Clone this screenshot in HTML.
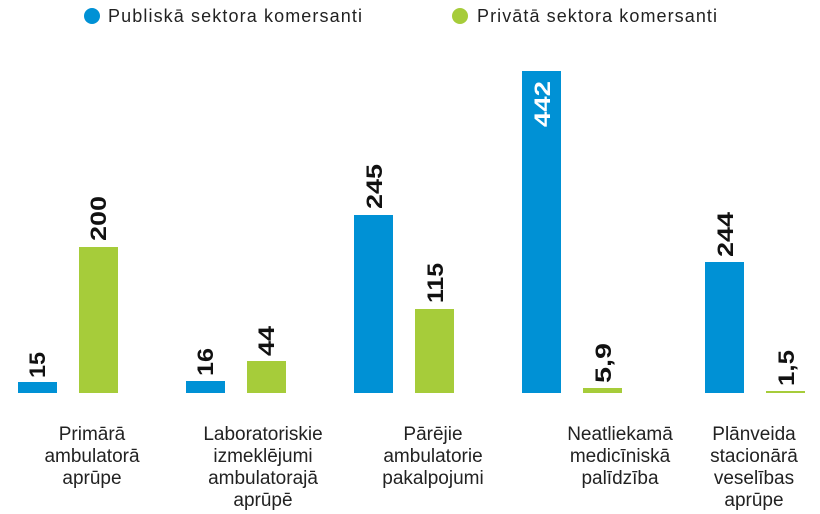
<!DOCTYPE html><html><head><meta charset="utf-8"><style>
body{margin:0;background:#fff;}
svg{display:block;font-family:"Liberation Sans",sans-serif;}
</style></head><body>
<svg width="820" height="514" xmlns="http://www.w3.org/2000/svg">
<circle cx="92" cy="16" r="8" fill="#0091d5"/>
<text x="108" y="22" font-size="18" fill="#222" textLength="254" lengthAdjust="spacing">Publiskā sektora komersanti</text>
<circle cx="460" cy="16" r="8" fill="#a6cc3a"/>
<text x="477" y="22" font-size="18" fill="#222" textLength="240" lengthAdjust="spacing">Privātā sektora komersanti</text>
<g fill="#0091d5">
<rect x="18" y="382" width="39" height="11"/>
<rect x="186" y="381" width="39" height="12"/>
<rect x="354" y="215" width="39" height="178"/>
<rect x="522" y="71" width="39" height="322"/>
<rect x="705" y="262" width="39" height="131"/>
</g>
<g fill="#a6cc3a">
<rect x="79" y="247" width="39" height="146"/>
<rect x="247" y="361" width="39" height="32"/>
<rect x="415" y="309" width="39" height="84"/>
<rect x="583" y="388" width="39" height="5"/>
<rect x="766" y="391" width="39" height="2"/>
</g>
<g font-size="22" font-weight="bold" fill="#111">
<text transform="translate(45,378) rotate(-90)" textLength="26" lengthAdjust="spacingAndGlyphs">15</text>
<text transform="translate(106,241) rotate(-90)" textLength="45" lengthAdjust="spacingAndGlyphs">200</text>
<text transform="translate(213,376) rotate(-90)" textLength="28" lengthAdjust="spacingAndGlyphs">16</text>
<text transform="translate(274,356) rotate(-90)" textLength="30" lengthAdjust="spacingAndGlyphs">44</text>
<text transform="translate(382,209) rotate(-90)" textLength="45" lengthAdjust="spacingAndGlyphs">245</text>
<text transform="translate(443,303) rotate(-90)" textLength="40" lengthAdjust="spacingAndGlyphs">115</text>
<text transform="translate(611,383) rotate(-90)" textLength="40" lengthAdjust="spacingAndGlyphs">5,9</text>
<text transform="translate(733,257) rotate(-90)" textLength="45" lengthAdjust="spacingAndGlyphs">244</text>
<text transform="translate(794,386) rotate(-90)" textLength="36" lengthAdjust="spacingAndGlyphs">1,5</text>
<text transform="translate(550,127) rotate(-90)" fill="#fff" textLength="46" lengthAdjust="spacingAndGlyphs">442</text>
</g>
<g font-size="19" fill="#222" text-anchor="middle">
<text x="92" y="440">Primārā</text><text x="92" y="462">ambulatorā</text><text x="92" y="484">aprūpe</text>
<text x="263" y="440">Laboratoriskie</text><text x="263" y="462">izmeklējumi</text><text x="263" y="484">ambulatorajā</text><text x="263" y="506">aprūpē</text>
<text x="433" y="440">Pārējie</text><text x="433" y="462">ambulatorie</text><text x="433" y="484">pakalpojumi</text>
<text x="620" y="440">Neatliekamā</text><text x="620" y="462">medicīniskā</text><text x="620" y="484">palīdzība</text>
<text x="754" y="440">Plānveida</text><text x="754" y="462">stacionārā</text><text x="754" y="484">veselības</text><text x="754" y="506">aprūpe</text>
</g>
</svg>
</body></html>
